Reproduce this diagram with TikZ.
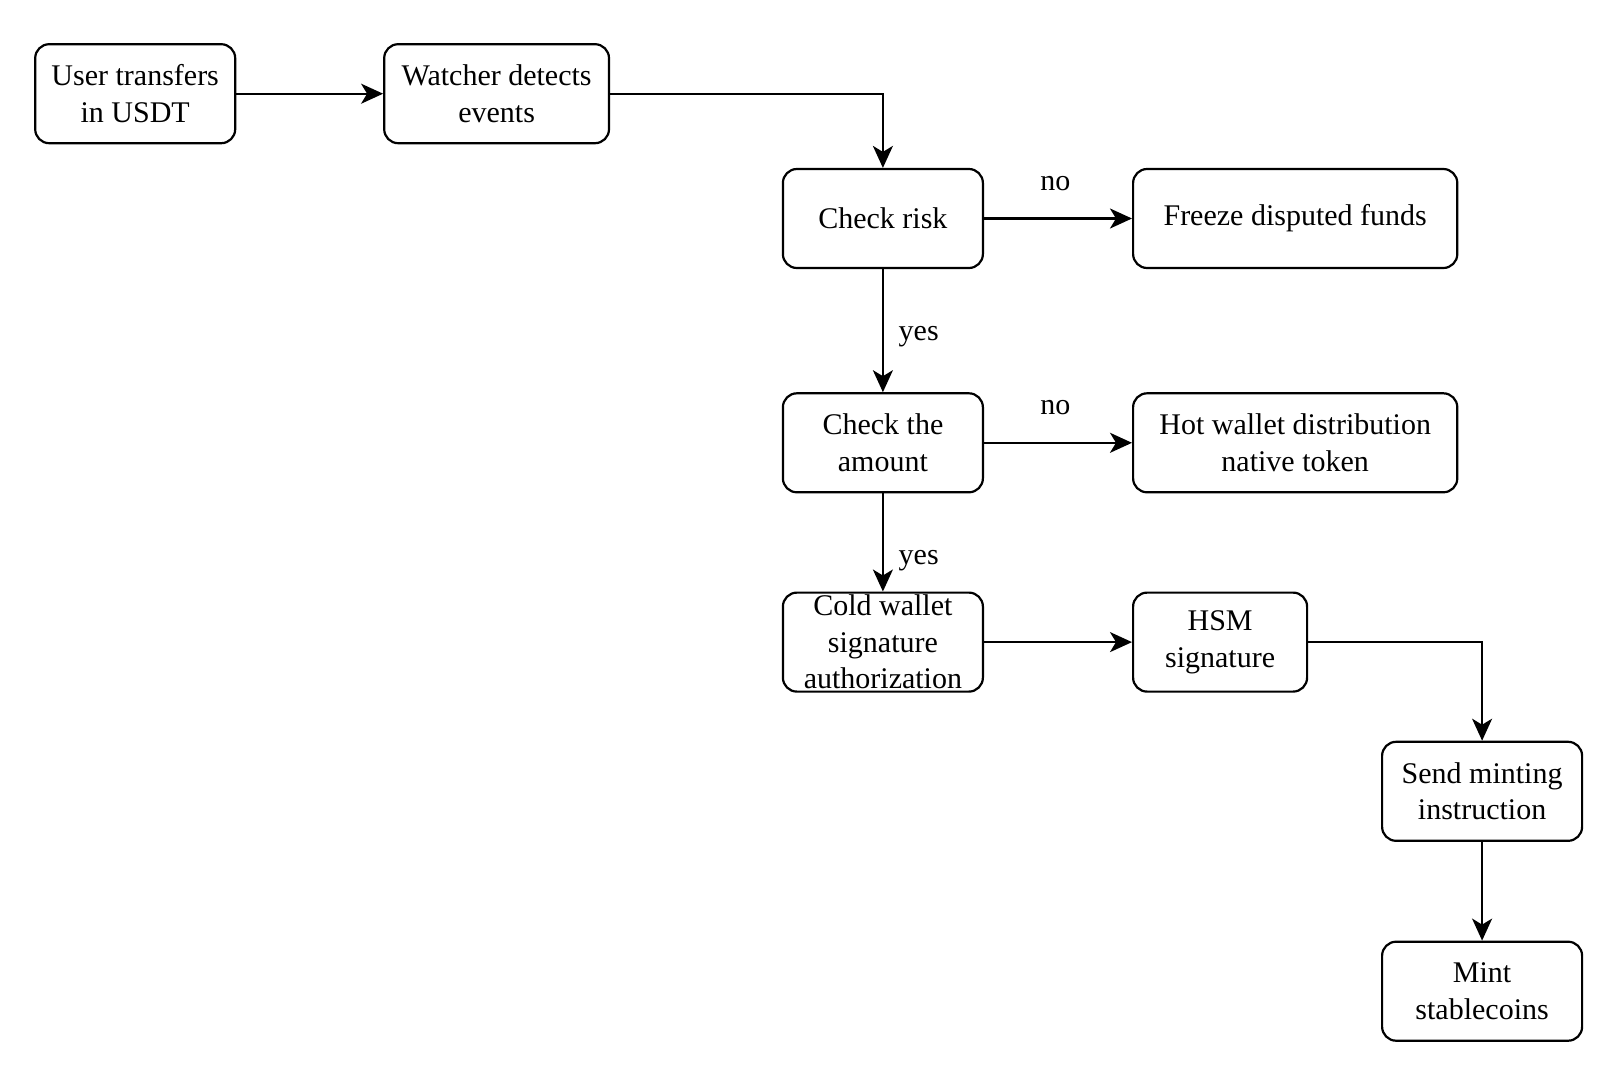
\documentclass[tikz,border=0pt]{standalone}
\usepackage{fontspec}
\setmainfont{Liberation Serif}
\usetikzlibrary{arrows.meta}
\begin{document}
\begin{tikzpicture}[x=0.5pt,y=-0.5pt,
  box/.style={draw, line width=1.1pt, rounded corners=7pt, align=center, inner sep=0pt,
    minimum height=49.5pt, font=\fontsize{15}{18.2}\selectfont},
  w1/.style={minimum width=100pt},
  w2/.style={minimum width=112.4pt},
  w3/.style={minimum width=162.1pt},
  w4/.style={minimum width=87pt},
  arr/.style={line width=1.1pt, -{Stealth[length=11pt,width=10pt,inset=3pt]}},
  lbl/.style={font=\fontsize{15}{18}\selectfont, inner sep=0pt}]
\useasboundingbox (0,0) rectangle (1624,1088);
\node[box,w1] (user) at (135.2,93.7) {User transfers\\in USDT};
\node[box,w2] (watch) at (496.6,93.7) {Watcher detects\\events};
\node[box,w1] (risk) at (882.9,218.5) {Check risk};
\node[box,w3] (freeze) at (1295.2,218.5) {\raisebox{-1.2pt}{Freeze disputed funds}};
\node[box,w1] (amount) at (882.9,442.8) {Check the\\amount};
\node[box,w3] (hot) at (1295.2,442.8) {Hot wallet distribution\\native token};
\node[box,w1] (cold) at (882.9,642.1) {Cold wallet\\signature\\authorization};
\node[box,w4] (hsm) at (1220.1,642.1) {HSM\\signature};
\node[box,w1] (send) at (1482.1,791.3) {Send minting\\instruction};
\node[box,w1] (mint) at (1482.1,991.2) {Mint\\stablecoins};

\draw[arr] (user) -- (watch);
\draw[arr] (watch.east) -| (risk.north);
\draw[arr] (risk) -- (freeze);
\draw[arr] (risk) -- (amount);
\draw[arr] (amount) -- (hot);
\draw[arr] (amount) -- (cold);
\draw[arr] (cold) -- (hsm);
\draw[arr] (hsm.east) -| (send.north);
\draw[arr] (send) -- (mint);

\node[lbl] (no1) at (1055.4,183.3) {no};
\node[lbl] (no2) at (1055.4,408) {no};
\node[lbl] (yes1) at (918.7,336.6) {yes};
\node[lbl] (yes2) at (918.7,560.3) {yes};
\end{tikzpicture}
\end{document}
